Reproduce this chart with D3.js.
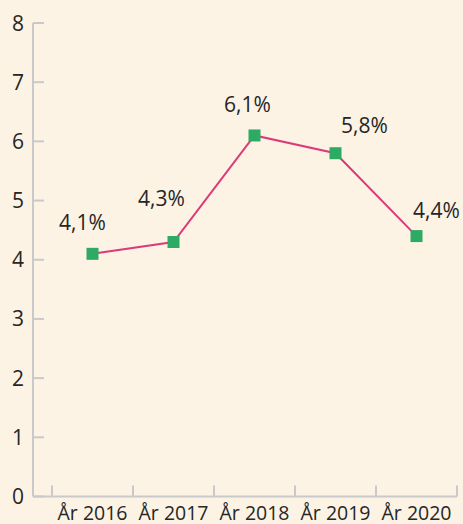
<html>
<head>
<meta charset="utf-8">
<style>
  html, body { margin: 0; padding: 0; background: #fcf3e5; }
  svg text { font-family: "Open Sans", sans-serif; fill: #262626; }
</style>
</head>
<body>
<div id="chart"></div>
<script src="https://d3js.org/d3.v7.min.js"></script>
<script>
// data
var years = ["År 2016", "År 2017", "År 2018", "År 2019", "År 2020"];
var values = [4.1, 4.3, 6.1, 5.8, 4.4];
var yTicks = [0, 1, 2, 3, 4, 5, 6, 7, 8];
// label nudges (layout only)
var labelDx = [-10, -12, -7, 29, 20];
var labelDy = [-24, -36, -23, -20, -18];

var width = 463, height = 524;
var svg = d3.select("#chart").append("svg")
    .attr("width", width)
    .attr("height", height);

var x = d3.scaleBand().domain(years).range([52, 457]);
var y = d3.scaleLinear().domain([0, 8]).range([496.5, 23]);

// y axis
var yAxis = svg.append("g").attr("transform", "translate(33,0)");
yAxis.append("line")
    .attr("x1", 0).attr("x2", 0)
    .attr("y1", y(8)).attr("y2", y(0))
    .attr("stroke", "#c9c9c9").attr("stroke-width", 2);
yAxis.selectAll(".tick").data(yTicks).enter().append("line")
    .attr("x1", 0).attr("x2", 11)
    .attr("y1", function(d) { return y(d); })
    .attr("y2", function(d) { return y(d); })
    .attr("stroke", "#c9c9c9").attr("stroke-width", 2);
yAxis.selectAll("text").data(yTicks).enter().append("text")
    .attr("x", -9)
    .attr("y", function(d) { return y(d); })
    .attr("dy", "0.36em")
    .attr("text-anchor", "end")
    .style("font-size", "21px")
    .text(function(d) { return d; });

// x axis
var xAxis = svg.append("g");
xAxis.append("line")
    .attr("x1", 33).attr("x2", 457)
    .attr("y1", y(0)).attr("y2", y(0))
    .attr("stroke", "#c9c9c9").attr("stroke-width", 2);
var edges = years.map(function(d) { return x(d); }).concat([x.range()[1]]);
xAxis.selectAll(".tick").data(edges).enter().append("line")
    .attr("x1", function(d) { return d; })
    .attr("x2", function(d) { return d; })
    .attr("y1", y(0)).attr("y2", y(0) - 11)
    .attr("stroke", "#c9c9c9").attr("stroke-width", 2);
xAxis.selectAll("text").data(years).enter().append("text")
    .attr("x", function(d) { return x(d) + x.bandwidth() / 2; })
    .attr("y", 520)
    .attr("text-anchor", "middle")
    .style("font-size", "19.5px")
    .text(function(d) { return d; });

// line
var line = d3.line()
    .x(function(d, i) { return x(years[i]) + x.bandwidth() / 2; })
    .y(function(d) { return y(d); });
svg.append("path")
    .datum(values)
    .attr("d", line)
    .attr("fill", "none")
    .attr("stroke", "#dc3a78")
    .attr("stroke-width", 2);

// markers
svg.selectAll(".pt").data(values).enter().append("rect")
    .attr("x", function(d, i) { return x(years[i]) + x.bandwidth() / 2 - 6; })
    .attr("y", function(d) { return y(d) - 6; })
    .attr("width", 12).attr("height", 12)
    .attr("fill", "#2daa63");

// labels
svg.selectAll(".lbl").data(values).enter().append("text")
    .attr("x", function(d, i) { return x(years[i]) + x.bandwidth() / 2 + labelDx[i]; })
    .attr("y", function(d, i) { return y(d) + labelDy[i]; })
    .attr("text-anchor", "middle")
    .style("font-size", "21px")
    .text(function(d) { return d.toFixed(1).replace(".", ",") + "%"; });
</script>
</body>
</html>
